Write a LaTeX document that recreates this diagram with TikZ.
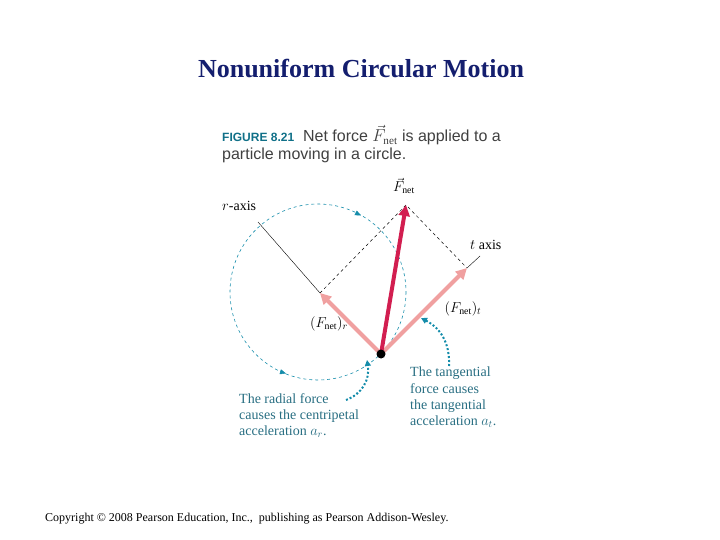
\documentclass[tikz,border=0pt]{standalone}
\usepackage{fontspec}
\setmainfont{Liberation Serif}
\newfontfamily\figsans{Liberation Sans}
\usetikzlibrary{arrows.meta,decorations.markings}
\definecolor{navy}{RGB}{20,30,110}
\definecolor{teal1}{RGB}{20,140,170}
\definecolor{txtteal}{RGB}{40,110,130}
\definecolor{pinkv}{RGB}{240,160,160}
\definecolor{netc}{RGB}{210,30,80}
\begin{document}
\begin{tikzpicture}[x=1pt,y=-1pt,
 vec/.style={line width=4pt,-{Triangle[length=11pt,width=11pt]}},
 dsh/.style={dashed,line width=0.5pt},
 lbl/.style={font=\fontsize{14}{15}\selectfont,inner sep=1pt},
 captxt/.style={font=\fontsize{14}{16.3}\selectfont,text=txtteal,align=left,anchor=north west,inner sep=0pt},
 dotarr/.style={teal1,line width=2pt,dotted,-{Triangle[length=6pt,width=6pt]}}]
\useasboundingbox (0,0) rectangle (720,540);
\node (title) at (361,69) {\fontsize{26}{28}\selectfont\bfseries\color{navy}Nonuniform Circular Motion};
\node[anchor=north west,inner sep=0pt,align=left,font=\figsans\fontsize{16}{18}\selectfont,text=black!75] (fig) at (222,125)
 {{\color{teal1!80!black}\bfseries\fontsize{12}{18}\selectfont FIGURE 8.21}\ \ Net force $\vec F_{\mathrm{net}}$ is applied to a\\particle moving in a circle.};
\coordinate (O) at (318,292);
\coordinate (P) at (381,354);
\coordinate (R) at (320,293);
\coordinate (T) at (467,268);
\coordinate (N) at (406,205);
\coordinate (rend) at (258,222);
\coordinate (tend) at (480,256);
\coordinate (a1) at (357,213.5);
\coordinate (a2) at (281,372);
\draw[teal1,dashed,line width=0.6pt] (O) circle (88);
\draw[teal1,-{Triangle[length=6pt,width=5pt]}] (a1) -- ++(4,2);
\draw[teal1,-{Triangle[length=6pt,width=5pt]}] (a2) -- ++(5,1.5);
\draw (rend) -- (R);
\draw (T) -- (tend);
\draw[dsh] (R) -- (N) -- (T);
\draw[vec,pinkv] (P) -- (R);
\draw[vec,pinkv] (P) -- (T);
\draw[vec,netc] (P) -- (N);
\fill (P) circle (4.5);
\node[lbl,anchor=west] (rl) at (221,206) {$r$-axis};
\node[lbl,anchor=west] (tl) at (469,245) {$t$ axis};
\node[lbl] (nl) at (404,186) {$\vec F_{\mathrm{net}}$};
\node[lbl] (frl) at (329,324) {$(F_{\mathrm{net}})_r$};
\node[lbl] (ftl) at (463,309) {$(F_{\mathrm{net}})_t$};
\node[captxt] (c1) at (239,393) {The radial force\\causes the centripetal\\acceleration $a_r$.};
\node[captxt] (c2) at (410,367) {The tangential\\force causes\\the tangential\\acceleration $a_t$.};
\draw[dotarr] (346,400) .. controls (362,394) and (370,380) .. (367,360);
\draw[dotarr] (449,366) .. controls (450,342) and (440,328) .. (421,318);
\node[anchor=west,inner sep=0pt,font=\fontsize{12}{13}\selectfont] (copy) at (45,519) {Copyright \copyright{} 2008 Pearson Education, Inc., \ publishing as Pearson Addison-Wesley.};
\end{tikzpicture}
\end{document}
